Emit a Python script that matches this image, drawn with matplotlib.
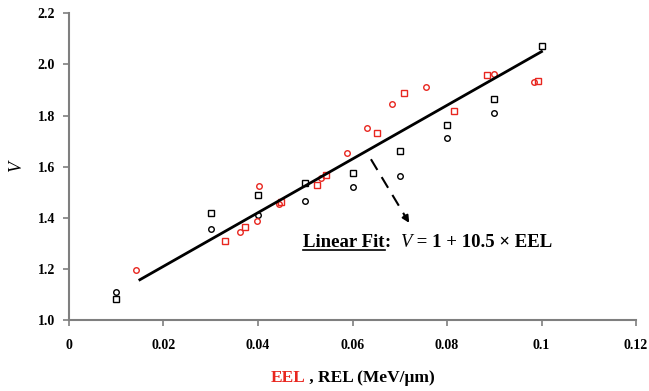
import numpy as np
import matplotlib.pyplot as plt
from matplotlib.lines import Line2D

plt.rcParams["font.family"] = ["Liberation Serif", "DejaVu Serif"]

RED = "#e8261f"
AXIS_GREY = "#7f7f7f"

# ===== Data =====
# EEL (red)
eel_circ_x = [0.0141, 0.0362, 0.0398, 0.0402, 0.0444, 0.0533, 0.0589, 0.0631, 0.0684, 0.0755, 0.0900, 0.0985]
eel_circ_v = [1.195, 1.343, 1.387, 1.523, 1.454, 1.557, 1.655, 1.750, 1.845, 1.913, 1.963, 1.931]
eel_sq_x = [0.0330, 0.0372, 0.0448, 0.0524, 0.0543, 0.0651, 0.0710, 0.0815, 0.0885, 0.0992]
eel_sq_v = [1.308, 1.363, 1.462, 1.528, 1.566, 1.732, 1.890, 1.818, 1.958, 1.937]
# REL (black)
rel_circ_x = [0.01, 0.03, 0.04, 0.05, 0.06, 0.07, 0.08, 0.09]
rel_circ_v = [1.110, 1.355, 1.411, 1.467, 1.522, 1.565, 1.711, 1.810]
rel_sq_x = [0.01, 0.03, 0.04, 0.05, 0.06, 0.07, 0.08, 0.09, 0.10]
rel_sq_v = [1.081, 1.419, 1.490, 1.535, 1.575, 1.663, 1.763, 1.866, 2.071]

# linear fit V = a + b * EEL
fit_a, fit_b = 1.0, 10.5
fit_x = np.array([0.015, 0.100])

x_ticks = [0, 0.02, 0.04, 0.06, 0.08, 0.1, 0.12]
x_tick_labels = ["0", "0.02", "0.04", "0.06", "0.08", "0.1", "0.12"]
y_ticks = [1.0, 1.2, 1.4, 1.6, 1.8, 2.0, 2.2]

# ===== Plot =====
fig = plt.figure(figsize=(6.49, 3.91), dpi=100)
ax = fig.add_axes([0.1063, 0.1816, 0.8737, 0.7844])

mk = dict(linestyle="none", markerfacecolor="none", markeredgewidth=1.0)
ax.plot(rel_sq_x, rel_sq_v, "s", markersize=4.2, markeredgecolor="black", **mk)
ax.plot(rel_circ_x, rel_circ_v, "o", markersize=4.0, markeredgecolor="black", **mk)
ax.plot(eel_sq_x, eel_sq_v, "s", markersize=4.2, markeredgecolor=RED, **mk)
ax.plot(eel_circ_x, eel_circ_v, "o", markersize=4.0, markeredgecolor=RED, **mk)

ax.plot(fit_x, fit_a + fit_b * fit_x, color="black", linewidth=2.0)

# dashed pointer from the fit line to the equation
ax.plot([0.0639, 0.0715], [1.629, 1.395], color="black", linewidth=1.5,
        dashes=(6, 4))
ax.annotate("", xy=(0.0720, 1.380), xytext=(0.0710, 1.410),
            arrowprops=dict(arrowstyle="-|>", color="black", lw=1.5,
                            mutation_scale=10, shrinkA=0, shrinkB=0))

ax.set_xlim(0, 0.12)
ax.set_ylim(1.0, 2.2)
ax.set_xticks(x_ticks)
ax.set_xticklabels(x_tick_labels)
ax.set_yticks(y_ticks)
ax.set_yticklabels([f"{v:.1f}" for v in y_ticks])
for lab in ax.get_xticklabels() + ax.get_yticklabels():
    lab.set_fontweight("bold")
    lab.set_fontsize(10)

for side in ("top", "right"):
    ax.spines[side].set_visible(False)
for side in ("left", "bottom"):
    ax.spines[side].set_color(AXIS_GREY)
    ax.spines[side].set_linewidth(1.5)
ax.tick_params(direction="out", length=4, width=1.2, color=AXIS_GREY)
ax.tick_params(axis="x", pad=10)
ax.tick_params(axis="y", pad=6)

ax.set_ylabel("V", fontstyle="italic", fontsize=13, labelpad=9)

# x label: red EEL followed by black REL
t1 = fig.text(0.0, 0.0, "EEL", color=RED, fontweight="bold", fontsize=12.5,
              va="baseline", ha="left")
t2 = ax.annotate(" , REL (MeV/\u03bcm)", xy=(1, 0), xycoords=t1, color="black",
                 fontweight="bold", fontsize=12.5, va="bottom", ha="left")

# fit equation
e1 = ax.text(0.0496, 1.285, "Linear Fit", fontweight="bold", fontsize=13.5,
             va="baseline", ha="left")
e2 = ax.annotate(":  ", xy=(1, 0), xycoords=e1, fontweight="bold",
                 fontsize=13.5, va="bottom", ha="left")
e3 = ax.annotate("V", xy=(1, 0), xycoords=e2, fontstyle="italic",
                 fontsize=13.5, va="bottom", ha="left")
e4 = ax.annotate(" = 1 + 10.5 \u00d7 EEL", xy=(1, 0), xycoords=e3,
                 fontweight="bold", fontsize=13.5, va="bottom", ha="left")

# centre the x label under the axes
fig.canvas.draw()
r = fig.canvas.get_renderer()
w = t1.get_window_extent(r).width + t2.get_window_extent(r).width
ax_bb = ax.get_window_extent(r)
cx = (ax_bb.x0 + ax_bb.x1) / 2
t1.set_position(((cx - w / 2) / fig.bbox.width, 1 - 382 / 391))
fig.canvas.draw()

# underline "Linear Fit"
bb = e1.get_window_extent(r)
uy = bb.y0 + 1.5
fig.add_artist(Line2D([bb.x0 / fig.bbox.width, bb.x1 / fig.bbox.width],
                      [uy / fig.bbox.height, uy / fig.bbox.height],
                      color="black", linewidth=1.2))

fig.savefig("out.png", dpi=100)
